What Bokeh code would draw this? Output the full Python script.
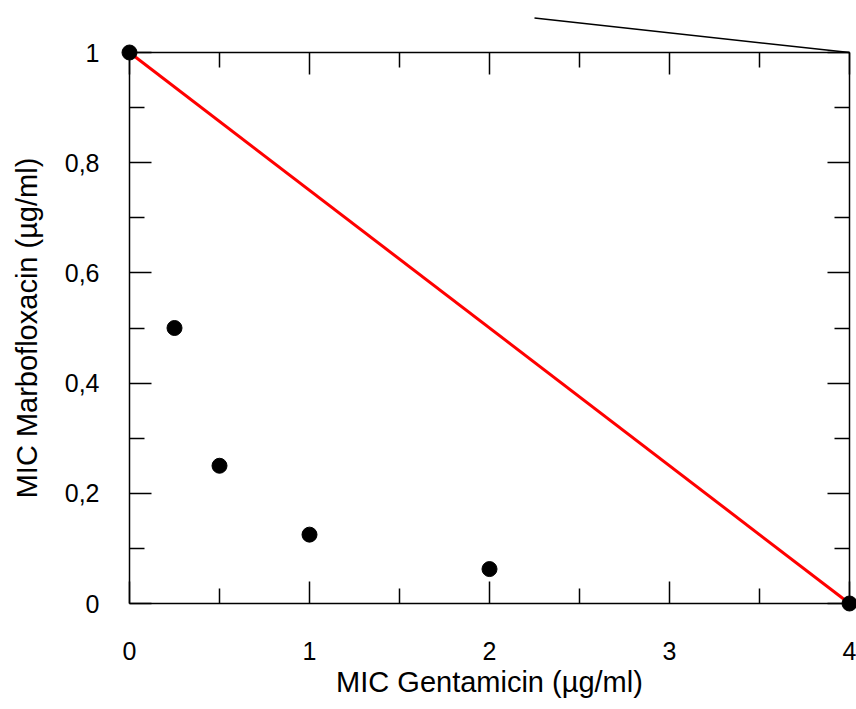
from bokeh.plotting import figure
from bokeh.models import LinearAxis, FixedTicker, Range1d, ColumnDataSource
from bokeh.embed import file_html
from bokeh.resources import INLINE

# data
gent_mic = [0, 0.25, 0.5, 1, 2, 4]
marbo_mic = [1, 0.5, 0.25, 0.125, 0.0625, 0]
additivity_x = [0, 4]
additivity_y = [1, 0]
stray_x = [2.25, 4]
stray_y = [1.0625, 1.0]

x_major = [0, 1, 2, 3, 4]
x_minor = [0.5, 1.5, 2.5, 3.5]
x_labels = ["0", "1", "2", "3", "4"]
y_major = [0, 0.2, 0.4, 0.6, 0.8, 1]
y_minor = [0.1, 0.3, 0.5, 0.7, 0.9]
y_labels = ["0", "0,2", "0,4", "0,6", "0,8", "1"]

FONT = "Liberation Sans"

p = figure(frame_width=720, frame_height=551, output_backend="svg", toolbar_location=None,
           x_range=Range1d(0, 4), y_range=Range1d(0, 1),
           min_border_left=129, min_border_top=52, min_border_right=7, min_border_bottom=96,
           x_axis_location=None, y_axis_location=None)
p.outline_line_color = None
p.grid.visible = False
p.background_fill_color = "white"
p.border_fill_color = "white"

def style(ax, ticks, minor, labels, show):
    ax.ticker = FixedTicker(ticks=ticks, minor_ticks=minor)
    ax.major_tick_in = 22
    ax.major_tick_out = 0
    ax.minor_tick_in = 15
    ax.minor_tick_out = 0
    ax.axis_line_width = 1.5
    ax.major_tick_line_width = 1.5
    ax.minor_tick_line_width = 1.5
    ax.axis_line_color = "black"
    ax.major_tick_line_color = "black"
    ax.minor_tick_line_color = "black"
    if show:
        ax.major_label_overrides = dict(zip(ticks, labels))
        ax.major_label_text_font = FONT
        ax.major_label_text_font_size = "25px"
        ax.major_label_text_color = "black"
        ax.axis_label_text_font = FONT
        ax.axis_label_text_font_size = "29px"
        ax.axis_label_text_font_style = "normal"
        ax.axis_label_text_color = "black"
    else:
        ax.major_label_overrides = {t: "" for t in ticks}
        ax.major_label_text_font_size = "0px"
        ax.major_label_standoff = 0

bottom = LinearAxis(axis_label="MIC Gentamicin (µg/ml)")
style(bottom, x_major, x_minor, x_labels, True)
bottom.major_label_standoff = 38
bottom.axis_label_standoff = 3
left = LinearAxis(axis_label="MIC Marbofloxacin (µg/ml)")
style(left, y_major, y_minor, y_labels, True)
left.major_label_standoff = 30
left.axis_label_standoff = 19
top = LinearAxis()
style(top, x_major, x_minor, x_labels, False)
right = LinearAxis()
style(right, y_major, y_minor, y_labels, False)

p.add_layout(bottom, "below")
p.add_layout(left, "left")
p.add_layout(top, "above")
p.add_layout(right, "right")

p.line(additivity_x, additivity_y, line_color="#ff0000", line_width=3, level="overlay")
p.line(stray_x, stray_y, line_color="black", line_width=1.5, level="overlay")
src = ColumnDataSource(dict(x=gent_mic, y=marbo_mic))
p.scatter("x", "y", source=src, size=15, fill_color="black", line_color="black", level="overlay")

open("out.html", "w").write(file_html(p, INLINE))
